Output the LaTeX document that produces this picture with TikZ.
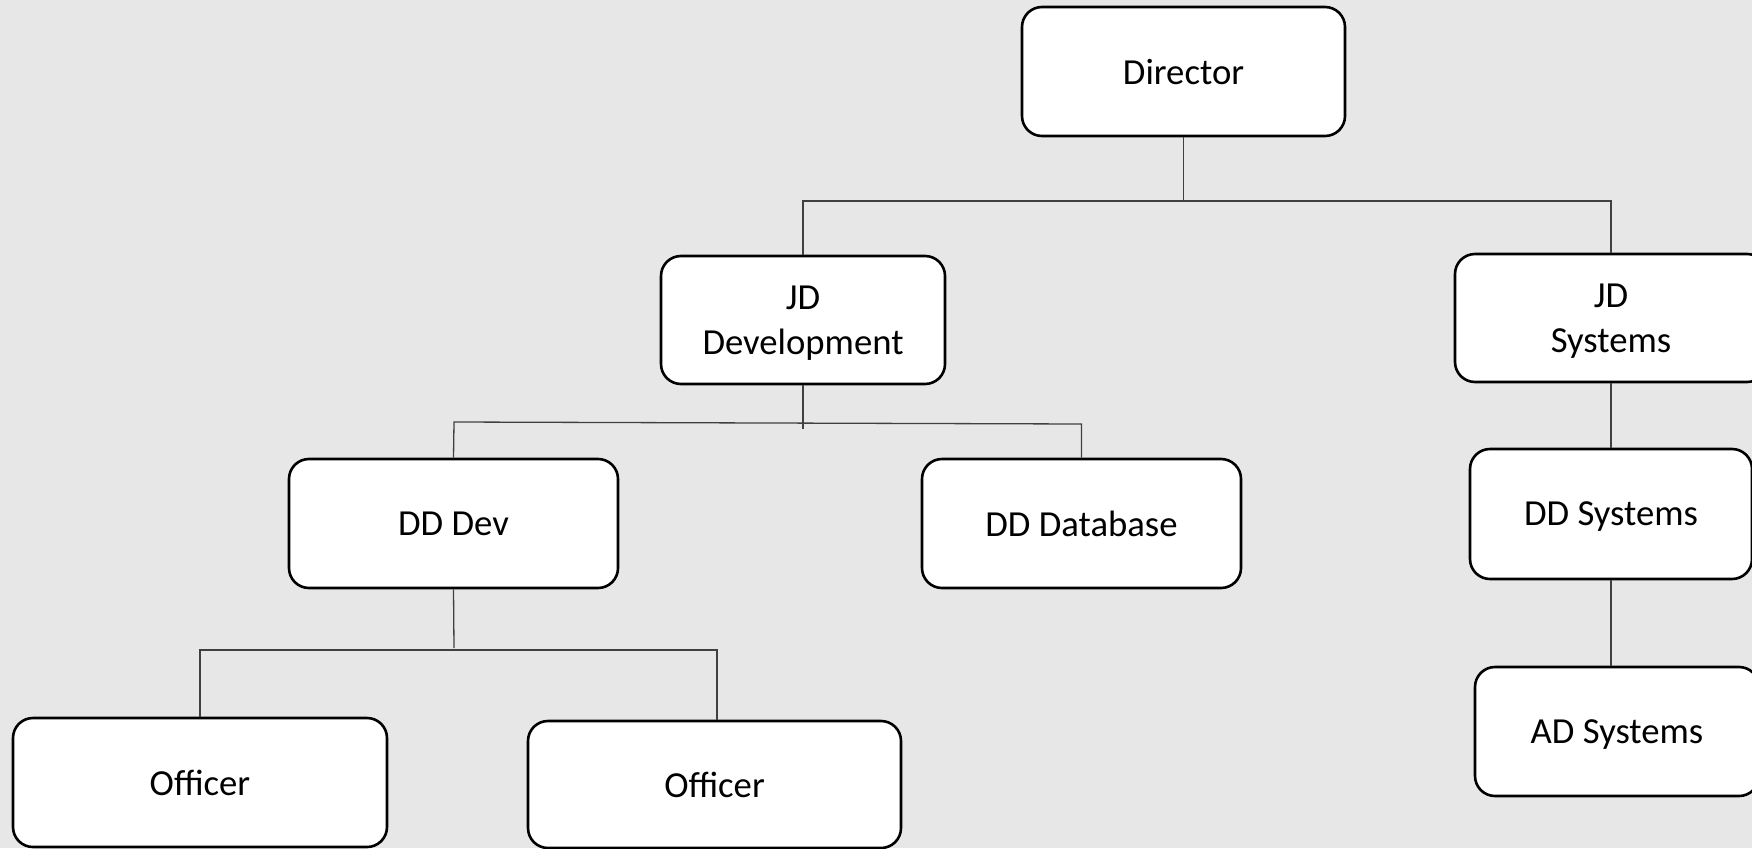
\documentclass[tikz,border=0pt]{standalone}
\usepackage{fontspec}
\setmainfont{Carlito}
\definecolor{bgcol}{RGB}{231,231,231}
\definecolor{linecol}{RGB}{64,64,64}
\tikzset{
  box/.style={draw=black, fill=white, line width=2.6pt, rounded corners=20pt,
    inner sep=0pt, align=center, text depth=0pt,
    font=\fontsize{36.7}{44.8}\selectfont},
  conn/.style={draw=linecol, line width=1.3pt}
}
\begin{document}
\begin{tikzpicture}[x=1pt,y=-1pt]
  \useasboundingbox (0,0) rectangle (1752,848);
  \fill[bgcol] (0,0) rectangle (1752,848);
  \clip (0,0) rectangle (1752,848);

  % boxes
  \node[box, minimum width=323pt, minimum height=129pt] (dir) at (1183.5,71.5) {Director};
  \node[box, minimum width=284pt, minimum height=128pt] (jdd) at (803,320) {JD\\Development};
  \node[box, minimum width=312pt, minimum height=128pt] (jds) at (1611,318) {JD\\Systems};
  \node[box, minimum width=329pt, minimum height=129pt] (ddv) at (453.5,523.5) {DD Dev};
  \node[box, minimum width=319pt, minimum height=129pt] (ddb) at (1081.5,523.5) {DD Database};
  \node[box, minimum width=282pt, minimum height=130pt] (dds) at (1611,514) {DD Systems};
  \node[box, minimum width=284pt, minimum height=129pt] (ads) at (1617,731.5) {AD Systems};
  \node[box, minimum width=374pt, minimum height=129pt] (o1) at (200,782.5) {Officer};
  \node[box, minimum width=373pt, minimum height=127pt] (o2) at (714.5,784.5) {Officer};

  % junction points
  \coordinate (b1) at (1183.5,201);
  \coordinate (b2) at (803,429);
  \coordinate (k1) at (454,422);
  \coordinate (k2) at (1081.5,424);
  \coordinate (b3) at (454,648);
  \coordinate (h1) at (200,650);
  \coordinate (h2) at (717,650);

  % connectors
  \draw[conn] (dir.south) -- (b1);
  \draw[conn] (jdd.north) |- (b1) -| (jds.north);
  \draw[conn] (jdd.south) -- (b2);
  \draw[conn] (ddv.north) -- (k1) -- (k2) -- (ddb.north);
  \draw[conn] (ddv.south) -- (b3);
  \draw[conn] (o1.north) -- (h1) -- (h2) -- (h2 |- o2.north);
  \draw[conn] (jds.south) -- (dds.north);
  \draw[conn] (dds.south) -- (dds.south |- ads.north);
\end{tikzpicture}
\end{document}
